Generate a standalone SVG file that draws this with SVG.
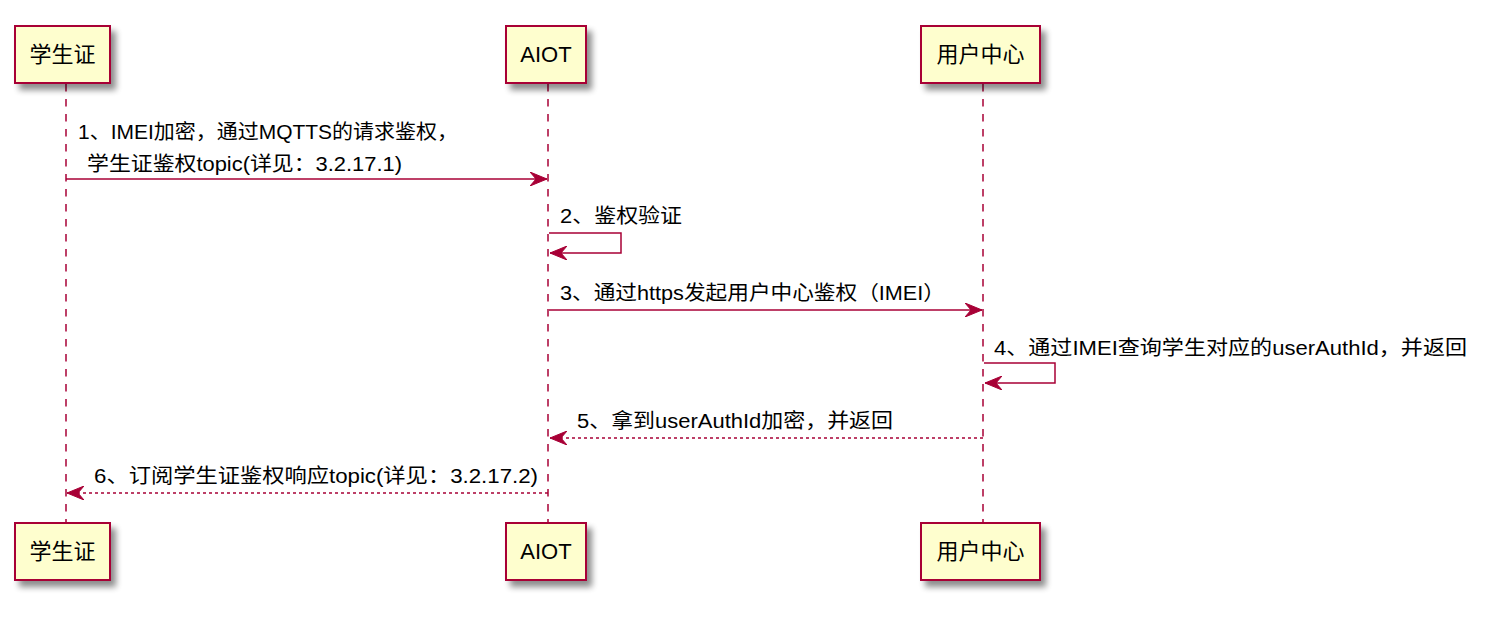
<svg xmlns="http://www.w3.org/2000/svg" width="1494" height="620" viewBox="0 0 1494 620">
<defs>
<filter id="sh" x="-20%" y="-20%" width="150%" height="150%">
<feGaussianBlur in="SourceAlpha" stdDeviation="3"/>
<feOffset dx="5" dy="6" result="b"/>
<feComponentTransfer><feFuncA type="linear" slope="0.45"/></feComponentTransfer>
<feMerge><feMergeNode/><feMergeNode in="SourceGraphic"/></feMerge>
</filter>
<marker id="ah" viewBox="0 0 18 14" refX="17" refY="7" markerWidth="18" markerHeight="14" markerUnits="userSpaceOnUse" orient="auto">
<polygon points="0,0 17,7 0,14 6,7" fill="#A80036" stroke="#A80036" stroke-width="1"/>
</marker>
</defs>
<style>
.box{fill:#FEFECE;stroke:#A80036;stroke-width:2;}
.pt{font-family:"Liberation Sans","Noto Sans CJK SC",sans-serif;font-size:22px;fill:#000;text-anchor:middle;}
.life{stroke:#A80036;stroke-width:1.5;stroke-dasharray:7.5,7.5;fill:none;}
.msg{stroke:#A80036;stroke-width:1.5;fill:none;marker-end:url(#ah);}
.ret{stroke-dasharray:3,3;}
.mt{font-family:"Liberation Sans","Noto Sans CJK SC",sans-serif;font-size:20px;fill:#000;}
</style>
<rect width="1494" height="620" fill="#FFFFFF"/>
<g id="lifelines">
<line class="life" x1="66" y1="84" x2="66" y2="523"/>
<line class="life" x1="548" y1="84" x2="548" y2="523"/>
<line class="life" x1="983" y1="84" x2="983" y2="523"/>
</g>
<g id="p-student-top"><rect class="box" x="15" y="26" width="95" height="57" filter="url(#sh)"/><text class="pt" x="62.5" y="62">学生证</text></g>
<g id="p-aiot-top"><rect class="box" x="506" y="26" width="80" height="57" filter="url(#sh)"/><text class="pt" x="546" y="62">AIOT</text></g>
<g id="p-uc-top"><rect class="box" x="921" y="26" width="119" height="57" filter="url(#sh)"/><text class="pt" x="980.5" y="62">用户中心</text></g>
<g id="p-student-bottom"><rect class="box" x="15" y="523" width="95" height="57" filter="url(#sh)"/><text class="pt" x="62.5" y="559">学生证</text></g>
<g id="p-aiot-bottom"><rect class="box" x="506" y="523" width="80" height="57" filter="url(#sh)"/><text class="pt" x="546" y="559">AIOT</text></g>
<g id="p-uc-bottom"><rect class="box" x="921" y="523" width="119" height="57" filter="url(#sh)"/><text class="pt" x="980.5" y="559">用户中心</text></g>
<g id="connectors">
<line class="msg" x1="66" y1="179" x2="547" y2="179"/>
<polyline class="msg" points="549,233 621,233 621,253 550,253"/>
<line class="msg" x1="549" y1="310" x2="982" y2="310"/>
<polyline class="msg" points="984,363 1055,363 1055,383 985,383"/>
<line class="msg ret" x1="983" y1="438" x2="550" y2="438"/>
<line class="msg ret" x1="548" y1="493" x2="67" y2="493"/>
</g>
<g id="labels">
<text class="mt" x="78" y="139" textLength="380" lengthAdjust="spacingAndGlyphs">1、IMEI加密，通过MQTTS的请求鉴权，</text>
<text class="mt" x="87" y="171" textLength="315" lengthAdjust="spacingAndGlyphs">学生证鉴权topic(详见：3.2.17.1)</text>
<text class="mt" x="560" y="223" textLength="122" lengthAdjust="spacingAndGlyphs">2、鉴权验证</text>
<text class="mt" x="560" y="300" textLength="385" lengthAdjust="spacingAndGlyphs">3、通过https发起用户中心鉴权（IMEI）</text>
<text class="mt" x="994" y="355" textLength="473" lengthAdjust="spacingAndGlyphs">4、通过IMEI查询学生对应的userAuthId，并返回</text>
<text class="mt" x="577" y="428" textLength="316" lengthAdjust="spacingAndGlyphs">5、拿到userAuthId加密，并返回</text>
<text class="mt" x="94" y="483" textLength="444" lengthAdjust="spacingAndGlyphs">6、订阅学生证鉴权响应topic(详见：3.2.17.2)</text>
</g>
</svg>
